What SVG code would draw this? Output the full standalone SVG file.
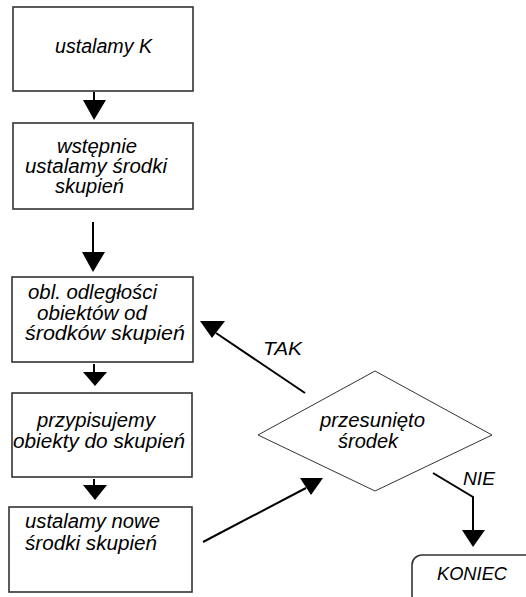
<svg xmlns="http://www.w3.org/2000/svg" width="526" height="597" viewBox="0 0 526 597">
<style>
.box{fill:#fff;stroke:#333;stroke-width:1.6}
.dia{fill:#fff;stroke:#333;stroke-width:1}
.t{font-family:"Liberation Sans",Arial,sans-serif;font-style:italic;font-size:20px;fill:#000}
.lbl{font-family:"Liberation Sans",Arial,sans-serif;font-style:italic;font-size:19px;fill:#000}
.ln{stroke:#000;stroke-width:2;fill:none}
.ah{fill:#000}
</style>
<rect width="526" height="597" fill="#fff"/>
<g id="connectors">
<line class="ln" x1="94" y1="92" x2="94" y2="101"/>
<polygon class="ah" points="83,100 106,100 94,120"/>
<line class="ln" x1="93" y1="222" x2="93" y2="253"/>
<polygon class="ah" points="82,252 105,252 93,272"/>
<line class="ln" x1="94" y1="364" x2="94" y2="373"/>
<polygon class="ah" points="83,372 107,372 95,386"/>
<line class="ln" x1="94" y1="479" x2="94" y2="486"/>
<polygon class="ah" points="83,485 107,485 95,500"/>
<line class="ln" x1="305" y1="393" x2="216" y2="333"/>
<polygon class="ah" points="200,321 225,321 212,338"/>
<line class="ln" x1="203" y1="542" x2="306" y2="488"/>
<polygon class="ah" points="300,478 323,478 311,495"/>
<polyline class="ln" points="433,473 473,497 473,531"/>
<polygon class="ah" points="462,530 485,530 473,547"/>
<text class="lbl" x="263" y="355" textLength="39" lengthAdjust="spacingAndGlyphs">TAK</text>
<text class="lbl" x="463" y="485" textLength="32" lengthAdjust="spacingAndGlyphs">NIE</text>
</g>
<g id="n1">
<rect class="box" x="13" y="7" width="180" height="84"/>
<text class="t" x="55" y="53" textLength="97" lengthAdjust="spacingAndGlyphs">ustalamy K</text>
</g>
<g id="n2">
<rect class="box" x="13" y="123" width="180" height="86"/>
<text class="t" x="57" y="153" textLength="80" lengthAdjust="spacingAndGlyphs">wstępnie</text>
<text class="t" x="25" y="173" textLength="142" lengthAdjust="spacingAndGlyphs">ustalamy środki</text>
<text class="t" x="55" y="193">skupień</text>
</g>
<g id="n3">
<rect class="box" x="12" y="277" width="181" height="85"/>
<text class="t" x="28" y="299" textLength="129" lengthAdjust="spacingAndGlyphs">obl. odległości</text>
<text class="t" x="37" y="320" textLength="110" lengthAdjust="spacingAndGlyphs">obiektów od</text>
<text class="t" x="25" y="340" textLength="160" lengthAdjust="spacingAndGlyphs">środków skupień</text>
</g>
<g id="n4">
<rect class="box" x="12" y="393" width="180" height="84"/>
<text class="t" x="37" y="427" textLength="118" lengthAdjust="spacingAndGlyphs">przypisujemy</text>
<text class="t" x="13" y="448" textLength="172" lengthAdjust="spacingAndGlyphs">obiekty do skupień</text>
</g>
<g id="n5">
<rect class="box" x="9" y="507" width="183" height="85"/>
<text class="t" x="25" y="528" textLength="135" lengthAdjust="spacingAndGlyphs">ustalamy nowe</text>
<text class="t" x="25" y="550" textLength="132" lengthAdjust="spacingAndGlyphs">środki skupień</text>
</g>
<g id="decision">
<polygon class="dia" points="375,371 492,435 375,491 258,435"/>
<text class="t" x="320" y="427" textLength="105" lengthAdjust="spacingAndGlyphs">przesunięto</text>
<text class="t" x="338" y="448">środek</text>
</g>
<g id="end">
<rect class="box" x="412" y="555" width="140" height="50" rx="10"/>
<text class="lbl" x="437" y="580" textLength="70" lengthAdjust="spacingAndGlyphs">KONIEC</text>
</g>
</svg>
